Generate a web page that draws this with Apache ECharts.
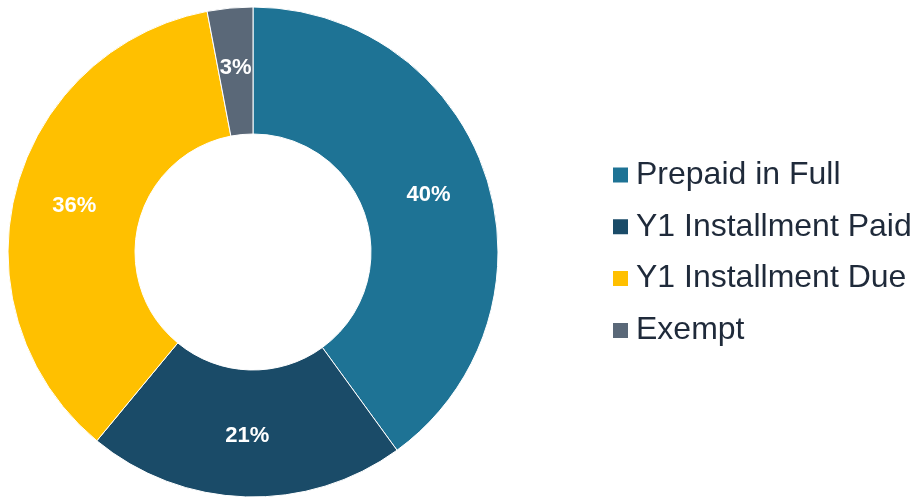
<!DOCTYPE html>
<html><head><meta charset="utf-8">
<script src="https://cdn.jsdelivr.net/npm/echarts@6/dist/echarts.min.js"></script>
<style>html,body{margin:0;padding:0;background:#fff}#c{width:912px;height:499px}</style>
</head><body><div id="c"></div>
<script>
const categories = ['Prepaid in Full', 'Y1 Installment Paid', 'Y1 Installment Due', 'Exempt'];
const values = [40, 21, 36, 3];
const colors = ['#1E7395', '#1A4B68', '#FFC000', '#5A6878'];
const chart = echarts.init(document.getElementById('c'));
chart.setOption({
  animation: false,
  color: colors,
  legend: {
    orient: 'vertical',
    left: 606,
    top: 154,
    itemWidth: 17,
    itemHeight: 17,
    itemGap: 19.8,
    icon: 'rect',
    textStyle: { fontFamily: 'Liberation Sans, Arial', fontSize: 32, color: '#1F2A3A', padding: [0,0,0,2] },
    data: categories
  },
  series: [{
    type: 'pie',
    center: [253, 252],
    radius: [118, 245],
    startAngle: 90,
    clockwise: true,
    itemStyle: { borderColor: '#ffffff', borderWidth: 1 },
    label: {
      position: 'inside',
      formatter: '{d}%',
      color: '#fff',
      fontFamily: 'Liberation Sans, Arial',
      fontWeight: 'bold',
      fontSize: 22
    },
    labelLine: { show: false },
    data: categories.map((n, i) => ({ name: n, value: values[i] }))
  }]
});
</script></body></html>
